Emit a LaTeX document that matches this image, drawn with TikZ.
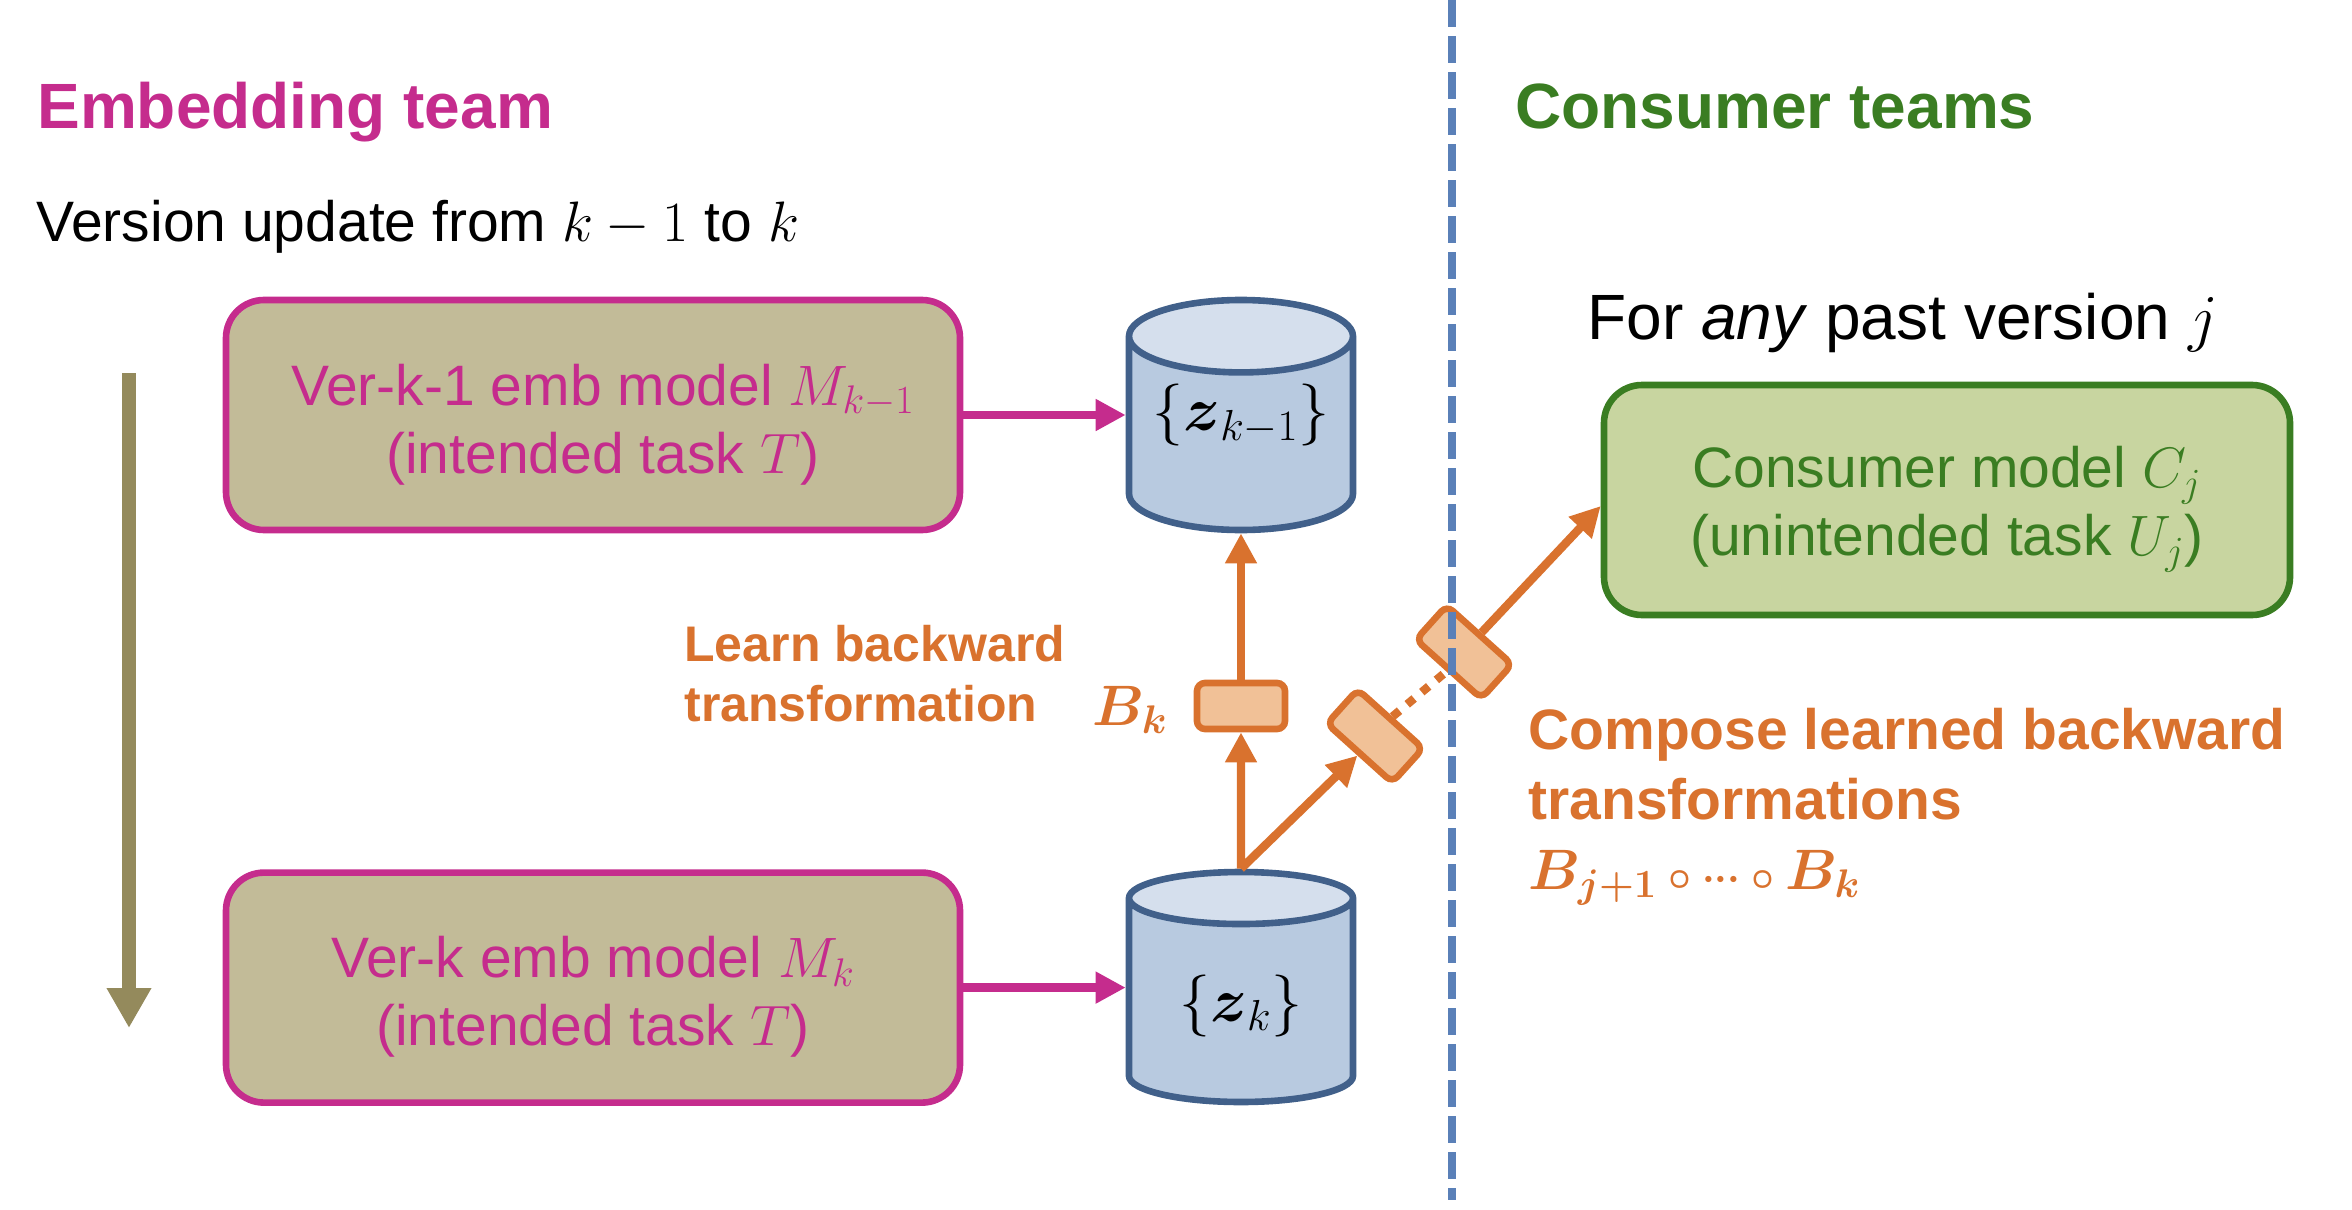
\documentclass[tikz,border=0pt]{standalone}
\usepackage{fix-cm}
\usepackage{amsmath,fontspec}
\setmainfont{Liberation Sans}
\usetikzlibrary{arrows.meta,positioning,shapes.geometric}
\definecolor{EmbPink}{HTML}{C52C8D}
\definecolor{EmbFill}{HTML}{C2BB98}
\definecolor{Olive}{HTML}{948A5C}
\definecolor{CylEdge}{HTML}{41608A}
\definecolor{CylBody}{HTML}{B8CAE0}
\definecolor{CylTop}{HTML}{D5DFED}
\definecolor{Orange}{HTML}{D9722E}
\definecolor{OrangeFill}{HTML}{F1C197}
\definecolor{ConsGreen}{HTML}{3A7D22}
\definecolor{ConsFill}{HTML}{C8D5A0}
\definecolor{SplitBlue}{HTML}{5A80B8}
\newcommand{\szA}{\fontsize{32}{38}\selectfont}
\newcommand{\szB}{\fontsize{28.5}{34}\selectfont}
\newcommand{\szC}{\fontsize{25}{30}\selectfont}
\newcommand{\toppad}{\rule{0pt}{30pt}}

\begin{document}
\begin{tikzpicture}[x=.5pt,y=-.5pt,node distance=84pt,
  >={Triangle[length=15pt,width=15pt]},
  modelbox/.style={draw=#1,line width=3.3pt,rounded corners=19pt,text=#1,minimum height=115pt,align=center,font=\szB},
  embbox/.style={modelbox=EmbPink,fill=EmbFill,minimum width=367pt},
  db/.style={cylinder,shape border rotate=90,aspect=.38,draw=CylEdge,line width=3.3pt,cylinder uses custom fill,cylinder body fill=CylBody,cylinder end fill=CylTop,minimum width=112pt,minimum height=115pt,font=\fontsize{31}{36}\selectfont,anchor=shape center},
  trans/.style={draw=Orange,line width=3.3pt,rounded corners=4pt,fill=OrangeFill,minimum width=44pt,minimum height=23pt,inner sep=0pt},
  lab/.style={anchor=base west,inner sep=0pt,font=\szB},
  flow/.style={->,draw=Orange,line width=4.2pt},
  feed/.style={->,draw=EmbPink,line width=4.2pt}]
\useasboundingbox (0,0) rectangle (2352,1210);
\node[lab,font=\szA\bfseries,text=EmbPink](embhead) at (37,128){Embedding team};
\node[lab,font=\szA\bfseries,text=ConsGreen](conshead) at (1515,128){Consumer teams};
\node[lab](verlab) at (36,241){Version update from $k-1$ to $k$};
\node[lab,font=\fontsize{32}{38}\selectfont](anylab) at (1587,339){For \emph{any} past version $j$};
\node[embbox](embA) at (593,415){\toppad\hspace*{10pt}Ver-k-1 emb model $M_{k-1}$\\\hspace*{10pt}(intended task $T$)};
\node[embbox,below=168pt of embA](embB){\toppad Ver-k emb model $M_k$\\(intended task $T$)};
\node[db](zA) at (1241,415){\raisebox{5pt}[0pt][0pt]{$\{\boldsymbol{z}_{k-1}\}$}};
\node[db](zB) at (1241,987){$\{\boldsymbol{z}_{k}\}$};
\node[modelbox=ConsGreen,fill=ConsFill,minimum width=343pt](cons) at (1947,500){\toppad Consumer model $C_j$\\(unintended task $U_j$)};
\node[trans](bk) at (1241,706){};
\node[trans,rotate=-42](bfirst) at (1375,736){};
\node[trans,rotate=-42](blast) at (1464,652){};
\node[lab,font=\szC\bfseries,text=Orange,align=left,anchor=north west](learn) at (684,625){Learn backward\\transformation};
\node[lab,text=Orange](bklab) at (1092,725){$\boldsymbol{B_k}$};
\node[lab,font=\szB\bfseries,text=Orange,align=left,anchor=north west,execute at begin node={\setlength{\baselineskip}{35pt}}](comp) at (1528,708){Compose learned backward\\transformations};
\node[lab,font=\fontsize{28.5}{34}\selectfont,text=Orange](complab) at (1528,889){$\boldsymbol{B_{j+1}\,{\scriptstyle\circ}\,{\scriptstyle\cdots}\,{\scriptstyle\circ}\,B_k}$};
\coordinate(splittop) at (1452,0);
\coordinate(splitbot) at (1452,1200);
\coordinate(timetop) at (129,373);
\coordinate(timebot) at (129,1028);
\draw[draw=SplitBlue,line width=4.2pt,dash pattern=on 13.5pt off 4.5pt](splittop)--(splitbot);
\draw[->,draw=Olive,line width=7pt,>={Triangle[length=20pt,width=21pt]}](timetop)--(timebot);
\draw[feed](embA)--(embA-|zA.west);\draw[feed](embB)--(embB-|zB.west);
\draw[flow](zB.north)--(bk);\draw[flow](bk)--(zA.south);
\draw[flow](zB.north)--(bfirst.south);
\draw[draw=Orange,line width=4.2pt,dash pattern=on 4.5pt off 5pt](bfirst.north)--(blast.south);
\draw[flow](blast.north)--([yshift=-3pt]cons.west);
\end{tikzpicture}
\end{document}
